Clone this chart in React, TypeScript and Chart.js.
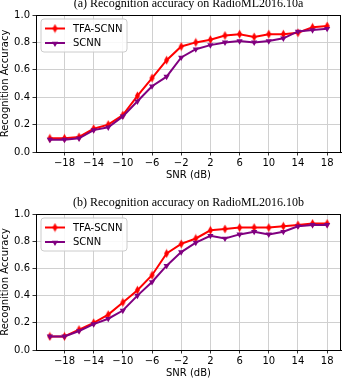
import React, { useEffect, useRef } from 'react';
import { Chart, registerables } from 'chart.js';

Chart.register(...registerables);

// ---------- data ----------
const snrValues = [-20, -18, -16, -14, -12, -10, -8, -6, -4, -2, 0, 2, 4, 6, 8, 10, 12, 14, 16, 18];
const xTickValues = [-18, -14, -10, -6, -2, 2, 6, 10, 14, 18];
const seriesNames = ['TFA-SCNN', 'SCNN'];

const tfaScnnA = [0.10, 0.10, 0.11, 0.17, 0.20, 0.27, 0.41, 0.54, 0.67, 0.77, 0.80, 0.82, 0.85, 0.86, 0.84, 0.86, 0.86, 0.87, 0.91, 0.92];
const scnnA = [0.09, 0.09, 0.10, 0.16, 0.18, 0.26, 0.37, 0.48, 0.55, 0.69, 0.75, 0.78, 0.80, 0.81, 0.80, 0.81, 0.83, 0.88, 0.89, 0.90];

const tfaScnnB = [0.10, 0.10, 0.15, 0.20, 0.26, 0.35, 0.44, 0.55, 0.71, 0.78, 0.82, 0.88, 0.89, 0.90, 0.90, 0.90, 0.91, 0.92, 0.93, 0.93];
const scnnB = [0.10, 0.10, 0.14, 0.19, 0.23, 0.29, 0.40, 0.50, 0.62, 0.72, 0.79, 0.84, 0.82, 0.85, 0.87, 0.85, 0.87, 0.91, 0.92, 0.92];

const titleA = '(a) Recognition accuracy on RadioML2016.10a';
const titleB = '(b) Recognition accuracy on RadioML2016.10b';
const xAxisTitle = 'SNR (dB)';
const yAxisTitle = 'Recognition Accuracy';

// ---------- styles ----------
const RED = '#ff0000';
const PURPLE = '#800080';
const SANS = '"DejaVu Sans", sans-serif';
const SERIF = '"Liberation Serif", "Times New Roman", serif';
const GRID = '#d0d0d0';
const LINE_W = 2;

function makeDiamond(color: string): HTMLCanvasElement {
  const c = document.createElement('canvas');
  c.width = 7;
  c.height = 10;
  const g = c.getContext('2d')!;
  g.fillStyle = color;
  g.beginPath();
  g.moveTo(3.5, 0.5);
  g.lineTo(6, 5);
  g.lineTo(3.5, 9.5);
  g.lineTo(1, 5);
  g.closePath();
  g.fill();
  return c;
}

function drawTriangleDown(ctx: CanvasRenderingContext2D, x: number, y: number, r: number, color: string) {
  ctx.fillStyle = color;
  ctx.beginPath();
  for (let k = 0; k < 3; k++) {
    const a = Math.PI + (k * 2 * Math.PI) / 3;
    const px = x + Math.sin(a) * r;
    const py = y - Math.cos(a) * r;
    if (k === 0) ctx.moveTo(px, py);
    else ctx.lineTo(px, py);
  }
  ctx.closePath();
  ctx.fill();
}

const fmtX = (v: number) => (v < 0 ? '\u2212' + Math.abs(v) : String(v));

interface PanelProps {
  title: string;
  tfa: number[];
  scnn: number[];
  padTop: number;
  padBottom: number;
}

function Panel({ title, tfa, scnn, padTop, padBottom }: PanelProps) {
  const ref = useRef<HTMLCanvasElement | null>(null);

  useEffect(() => {
    if (!ref.current) return;
    const diamond = makeDiamond(RED);

    const decorPlugin = {
      id: 'decor',
      afterDatasetsDraw(chart: any) {
        const { ctx, chartArea } = chart;
        const { left, top, right, bottom } = chartArea;
        ctx.save();
        // frame
        ctx.strokeStyle = '#000';
        ctx.lineWidth = 1;
        ctx.strokeRect(left + 0.5, top + 0.5, right - left - 1, bottom - top);
        // legend box
        const bx = left + 5;
        const by = top + 4;
        const bw = 86;
        const bh = 33;
        const r = 3;
        ctx.beginPath();
        ctx.moveTo(bx + r, by);
        ctx.lineTo(bx + bw - r, by);
        ctx.quadraticCurveTo(bx + bw, by, bx + bw, by + r);
        ctx.lineTo(bx + bw, by + bh - r);
        ctx.quadraticCurveTo(bx + bw, by + bh, bx + bw - r, by + bh);
        ctx.lineTo(bx + r, by + bh);
        ctx.quadraticCurveTo(bx, by + bh, bx, by + bh - r);
        ctx.lineTo(bx, by + r);
        ctx.quadraticCurveTo(bx, by, bx + r, by);
        ctx.closePath();
        ctx.fillStyle = 'rgba(255,255,255,0.85)';
        ctx.fill();
        ctx.strokeStyle = '#cccccc';
        ctx.lineWidth = 1;
        ctx.stroke();
        const items = [
          { name: seriesNames[0], color: RED, y: by + 9.5, kind: 'd' },
          { name: seriesNames[1], color: PURPLE, y: by + 24, kind: 'v' },
        ];
        ctx.font = `10px ${SANS}`;
        ctx.textBaseline = 'middle';
        ctx.textAlign = 'left';
        for (const it of items) {
          ctx.strokeStyle = it.color;
          ctx.lineWidth = LINE_W;
          ctx.beginPath();
          ctx.moveTo(bx + 4, it.y);
          ctx.lineTo(bx + 24, it.y);
          ctx.stroke();
          if (it.kind === 'd') {
            ctx.drawImage(diamond, bx + 14 - 3.5, it.y - 5);
          } else {
            drawTriangleDown(ctx, bx + 14, it.y + 0.5, 3.6, it.color);
          }
          ctx.fillStyle = '#000';
          ctx.fillText(it.name, bx + 32, it.y + 0.5);
        }
        // title
        ctx.font = `12px ${SERIF}`;
        ctx.textAlign = 'center';
        ctx.textBaseline = 'alphabetic';
        ctx.fillStyle = '#000';
        ctx.fillText(title, (left + right) / 2, top - 8.3);
        ctx.restore();
      },
    };

    const tickFont = { family: SANS, size: 10 };
    const chart = new Chart(ref.current, {
      type: 'line',
      data: {
        datasets: [
          {
            label: seriesNames[0],
            data: snrValues.map((x, i) => ({ x, y: tfa[i] })),
            borderColor: RED,
            backgroundColor: RED,
            borderWidth: LINE_W,
            pointStyle: diamond as any,
            pointRadius: 4,
            pointBorderWidth: 0,
            order: 1,
          },
          {
            label: seriesNames[1],
            data: snrValues.map((x, i) => ({ x, y: scnn[i] })),
            borderColor: PURPLE,
            backgroundColor: PURPLE,
            borderWidth: LINE_W,
            pointStyle: 'triangle',
            pointRotation: 180,
            pointRadius: 3.6,
            pointBorderWidth: 0,
            order: 0,
          },
        ],
      },
      options: {
        responsive: false,
        animation: false,
        layout: { padding: { top: padTop, right: 2, bottom: padBottom, left: 0 } },
        plugins: {
          legend: { display: false },
          tooltip: { enabled: false },
          title: { display: false },
        },
        scales: {
          x: {
            type: 'linear',
            min: -21.9,
            max: 19.9,
            afterBuildTicks: (s: any) => {
              s.ticks = xTickValues.map((v) => ({ value: v }));
            },
            afterFit: (s: any) => {
              s.height = 29;
            },
            ticks: {
              callback: (v: any) => fmtX(Number(v)),
              font: tickFont,
              color: '#000',
              padding: 1.5,
              maxRotation: 0,
              autoSkip: false,
            },
            grid: { color: GRID, lineWidth: 1, drawTicks: true, tickLength: 3.5, tickColor: '#000', tickWidth: 0.8 },
            border: { display: true, color: '#000', width: 1 },
            title: { display: true, text: xAxisTitle, font: tickFont, color: '#000', padding: 0 },
          },
          y: {
            min: 0,
            max: 1,
            afterFit: (s: any) => {
              s.width = 36;
            },
            ticks: {
              stepSize: 0.1,
              callback: (v: any) => Number(v).toFixed(1),
              font: tickFont,
              color: '#000',
              padding: 2.5,
            },
            grid: { color: GRID, lineWidth: 1, drawTicks: true, tickLength: 3.5, tickColor: '#000', tickWidth: 0.8 },
            border: { display: true, color: '#000', width: 1 },
            title: { display: true, text: yAxisTitle, font: tickFont, color: '#000', padding: { top: -1, bottom: 0 } },
          },
        },
      },
      plugins: [decorPlugin],
    } as any);
    return () => chart.destroy();
  }, [title, tfa, scnn, padTop, padBottom]);

  return (
    <div style={{ width: 345, height: 190, position: 'relative' }}>
      <canvas ref={ref} width={345} height={190} style={{ display: 'block', width: 345, height: 190 }} />
    </div>
  );
}

export default function App() {
  return (
    <div style={{ position: 'absolute', left: 0, top: 0, width: 345, height: 380, background: '#fff' }}>
      <Panel title={titleA} tfa={tfaScnnA} scnn={scnnA} padTop={15} padBottom={9} />
      <Panel title={titleB} tfa={tfaScnnB} scnn={scnnB} padTop={24} padBottom={1} />
    </div>
  );
}
